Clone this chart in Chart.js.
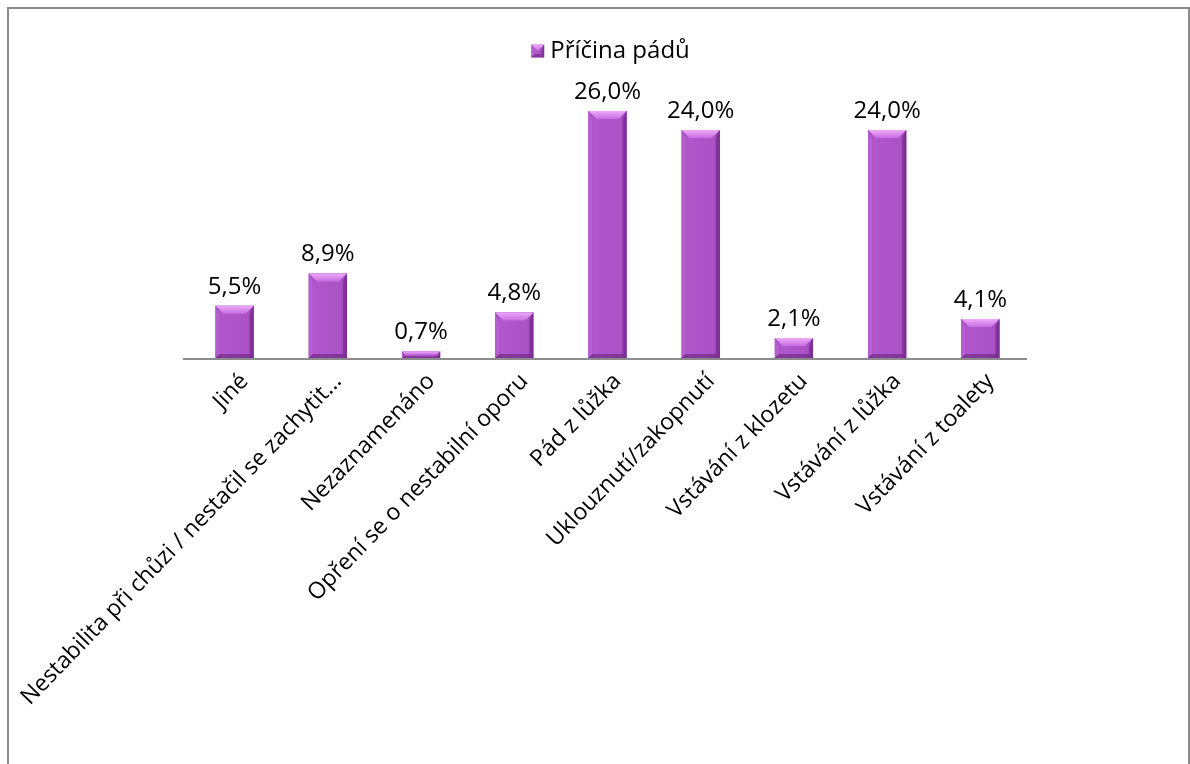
<!DOCTYPE html>
<html>
<head>
<meta charset="utf-8">
<script src="https://cdn.jsdelivr.net/npm/chart.js@4/dist/chart.umd.min.js"></script>
<style>
  html, body { margin: 0; padding: 0; background: #fff; }
  #wrap { position: relative; width: 1190px; height: 764px; }
  #frame { position: absolute; left: 7px; top: 7px; width: 1183px; height: 800px;
           border-left: 2px solid #8c8c8c; border-top: 2px solid #8c8c8c; border-right: 2px solid #8c8c8c;
           box-sizing: border-box; }
  canvas { position: absolute; left: 0; top: 0; }
</style>
</head>
<body>
<div id="wrap">
  <div id="frame"></div>
  <canvas id="barChart" width="1190" height="764"></canvas>
</div>
<script>
var categories = [ 'Jiné', 'Nestabilita při chůzi / nestačil se zachytit...', 'Nezaznamenáno',
		'Opření se o nestabilní oporu', 'Pád z lůžka', 'Uklouznutí/zakopnutí',
		'Vstávání z klozetu', 'Vstávání z lůžka', 'Vstávání z toalety' ];
var shares = [ 5.5, 8.9, 0.7, 4.8, 26.0, 24.0, 2.1, 24.0, 4.1 ];
var seriesName = 'Příčina pádů';

var fontFamily = "'Open Sans', 'Noto Sans', sans-serif";

function fmt(v) {
	return v.toFixed(1).replace('.', ',') + '%';
}

/* bevel look of the bars: light top edge, shaded sides */
function bevelBox(ctx, x0, y0, x1, y1) {
	var w = x1 - x0, h = y1 - y0;
	var b = Math.min(8, w / 2, h / 2);
	var g = ctx.createLinearGradient(x0, 0, x1, 0);
	g.addColorStop(0, '#9a44b3');
	g.addColorStop(0.15, '#b057cc');
	g.addColorStop(0.85, '#ab52c6');
	g.addColorStop(1, '#8a3aa2');
	ctx.fillStyle = g;
	ctx.fillRect(x0, y0, w, h);

	// top bevel
	var tg = ctx.createLinearGradient(0, y0, 0, y0 + b);
	tg.addColorStop(0, '#eeaaf9');
	tg.addColorStop(1, '#c66ee0');
	ctx.fillStyle = tg;
	ctx.beginPath();
	ctx.moveTo(x0, y0);
	ctx.lineTo(x1, y0);
	ctx.lineTo(x1 - b, y0 + b);
	ctx.lineTo(x0 + b, y0 + b);
	ctx.closePath();
	ctx.fill();

	// left side
	ctx.fillStyle = 'rgba(205,120,230,0.45)';
	ctx.beginPath();
	ctx.moveTo(x0, y0);
	ctx.lineTo(x0 + b * 0.5, y0 + b);
	ctx.lineTo(x0 + b * 0.5, y1 - b * 0.5);
	ctx.lineTo(x0, y1);
	ctx.closePath();
	ctx.fill();

	// right side
	ctx.fillStyle = 'rgba(90,20,110,0.35)';
	ctx.beginPath();
	ctx.moveTo(x1, y0);
	ctx.lineTo(x1 - b * 0.5, y0 + b);
	ctx.lineTo(x1 - b * 0.5, y1 - b * 0.5);
	ctx.lineTo(x1, y1);
	ctx.closePath();
	ctx.fill();

	// bottom edge
	ctx.fillStyle = 'rgba(80,20,100,0.45)';
	ctx.beginPath();
	ctx.moveTo(x0, y1);
	ctx.lineTo(x0 + b * 0.5, y1 - b * 0.5);
	ctx.lineTo(x1 - b * 0.5, y1 - b * 0.5);
	ctx.lineTo(x1, y1);
	ctx.closePath();
	ctx.fill();
}

var bevelBars = {
	id : 'bevelBars',
	beforeDatasetsDraw : function(chart) {
		// axis line runs a little past the first category
		var ctx = chart.ctx, a = chart.chartArea;
		ctx.save();
		ctx.strokeStyle = '#8c8c8c';
		ctx.lineWidth = 2;
		ctx.beginPath();
		ctx.moveTo(183, a.bottom + 1);
		ctx.lineTo(a.right, a.bottom + 1);
		ctx.stroke();
		ctx.restore();
	},
	afterDatasetsDraw : function(chart) {
		var ctx = chart.ctx;
		var meta = chart.getDatasetMeta(0);
		ctx.save();
		meta.data.forEach(function(bar, i) {
			var p = bar.getProps([ 'x', 'y', 'base', 'width' ], true);
			var x0 = p.x - p.width / 2, x1 = p.x + p.width / 2;
			bevelBox(ctx, x0, p.y, x1, p.base);

			ctx.fillStyle = '#000';
			ctx.font = '24px ' + fontFamily;
			ctx.textAlign = 'center';
			ctx.textBaseline = 'bottom';
			ctx.fillText(fmt(shares[i]), p.x, p.y - 7);
		});
		ctx.restore();
	},
	afterDraw : function(chart) {
		// bevelled legend marker
		var legend = chart.legend;
		if (!legend || !legend.legendHitBoxes.length) return;
		var hb = legend.legendHitBoxes[0];
		var s = 13;
		var y = hb.top + (hb.height - s) / 2;
		chart.ctx.save();
		chart.ctx.fillStyle = '#fff';
		chart.ctx.fillRect(hb.left - 1, hb.top, s + 2, hb.height);
		bevelBox(chart.ctx, hb.left + 6, y, hb.left + 6 + s, y + s);
		chart.ctx.restore();
	}
};

var barCtx = document.getElementById('barChart').getContext('2d');
var myBarChart = new Chart(barCtx, {
	type : 'bar',
	data : {
		labels : categories,
		datasets : [ {
			label : seriesName,
			data : shares,
			backgroundColor : '#a94fc4',
			borderWidth : 0,
			barPercentage : 0.41,
			categoryPercentage : 1.0
		} ]
	},
	options : {
		responsive : false,
		animation : false,
		layout : {
			padding : { left : 188, right : 163, top : 33, bottom : 6 }
		},
		scales : {
			x : {
				grid : { display : false, drawTicks : false },
				border : { display : false },
				ticks : {
					minRotation : 46,
					maxRotation : 46,
					autoSkip : false,
					padding : 10,
					labelOffset : 10,
					color : '#000',
					font : { family : fontFamily, size : 23 }
				},
				afterFit : function(scale) {
					scale.height = 400;
				}
			},
			y : {
				display : false,
				min : 0,
				max : 30
			}
		},
		plugins : {
			legend : {
				position : 'top',
				labels : {
					boxWidth : 13,
					boxHeight : 13,
					padding : 6,
					color : '#000',
					font : { family : fontFamily, size : 24 }
				}
			},
			tooltip : { enabled : false }
		}
	},
	plugins : [ bevelBars ]
});
</script>
</body>
</html>
